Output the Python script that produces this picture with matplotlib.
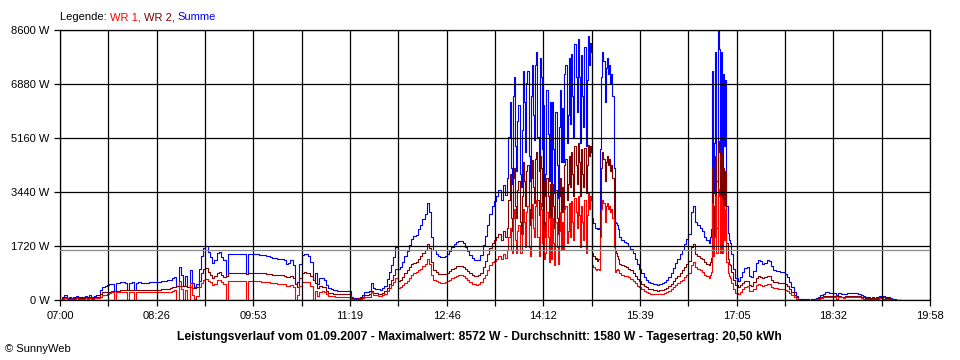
import numpy as np
import matplotlib
matplotlib.use("Agg")
import matplotlib.pyplot as plt

plt.rcParams['font.family'] = ['Liberation Sans', 'DejaVu Sans']

# ---- sample times (minutes after 07:00): 2-min samples, 1-min in the gusty spans ----
minutes = np.concatenate([
    np.arange(0, 400, 2),     # 07:00 - 13:38
    np.arange(400, 500, 1),   # 13:40 - 15:19
    np.arange(500, 580, 2),   # 15:20 - 16:38
    np.arange(580, 600, 1),   # 16:40 - 16:59
    np.arange(600, 753, 2),   # 17:00 - 19:32
])

# WR 2 (dark red), W
wr2 = [
    # 07:00 - 13:38 (2 min)
    0, 60, 90, 40, 70, 30, 60, 80, 50, 70,
    60, 80, 50, 90, 70, 80, 100, 110, 200, 260,
    265, 265, 270, 275, 280, 290, 300, 310, 310, 310,
    310, 310, 315, 310, 310, 315, 315, 310, 310, 315,
    320, 320, 325, 330, 330, 340, 340, 350, 360, 380,
    400, 420, 440, 450, 450, 450, 440, 410, 400, 390,
    390, 400, 600, 850, 1000, 1030, 900, 800, 700, 750,
    870, 880, 800, 740, 760, 850, 860, 860, 860, 860,
    860, 860, 860, 830, 860, 860, 860, 860, 860, 850,
    850, 845, 840, 830, 820, 810, 810, 800, 800, 800,
    780, 720, 740, 780, 700, 500, 420, 700, 870, 880,
    875, 850, 760, 650, 550, 380, 450, 430, 400, 300,
    230, 210, 200, 195, 190, 190, 195, 190, 185, 180,
    60, 40, 40, 50, 60, 110, 150, 150, 180, 300,
    220, 210, 200, 200, 230, 280, 380, 520, 650, 800,
    980, 600, 640, 740, 850, 950, 1050, 1150, 1190, 1200,
    1300, 1400, 1500, 1600, 1780, 1650, 1200, 950, 880, 840,
    820, 820, 830, 860, 920, 980, 1030, 1070, 1090, 1090,
    1060, 1000, 930, 860, 810, 780, 770, 790, 860, 1050,
    1250, 1450, 1650, 1800, 1900, 2000, 2100, 1900, 2200, 2000,
    # 13:40 - 15:19 (1 min)
    2300, 3200, 4000, 2600, 2200, 3900, 4200, 3000, 2600, 3500,
    3800, 2500, 2100, 3300, 4400, 3800, 3000, 4100, 4300, 2900,
    2400, 3900, 4450, 3600, 3100, 4500, 4700, 3200, 2700, 4600,
    4200, 3000, 3800, 2000, 2500, 3900, 3300, 2600, 3700, 2200,
    3700, 3000, 2300, 3500, 2600, 2100, 3300, 3900, 2800, 3600,
    2800, 4300, 4500, 3200, 3700, 4600, 3600, 4700, 4000, 3300,
    4900, 4300, 3700, 5000, 4400, 3300, 4800, 4000, 3600, 4850,
    3400, 4300, 4950, 4600, 4900, 4700, 1500, 1400, 1300, 1350,
    1250, 1300, 1300, 2800, 4200, 4700, 4500, 3800, 4400, 4600,
    4300, 4500, 4100, 4300, 3900, 2500, 1600, 1500, 1400, 1300,
    # 15:20 - 16:38 (2 min)
    1150, 1100, 1080, 1050, 1000, 950, 870, 780, 680, 600,
    520, 450, 400, 360, 340, 320, 310, 300, 310, 330,
    350, 390, 440, 520, 600, 690, 780, 850, 950, 1050,
    1150, 1250, 1700, 1780, 1450, 1400, 1350, 1300, 1200, 1150,
    # 16:40 - 16:59 (1 min)
    1100, 1200, 1350, 4200, 2000, 3000, 4600, 2300, 5052, 4700,
    2200, 4650, 2400, 4200, 3000, 4100, 1800, 1300, 1150, 1100,
    # 17:00 - 19:32 (2 min)
    900, 650, 480, 420, 470, 540, 600, 610, 470, 460,
    560, 700, 760, 740, 700, 720, 770, 750, 650, 580,
    560, 550, 550, 540, 500, 440, 360, 260, 170, 80,
    30, 20, 20, 15, 15, 10, 20, 30, 40, 60,
    100, 120, 140, 140, 130, 130, 130, 130, 120, 110,
    110, 120, 130, 130, 130, 130, 130, 120, 100, 80,
    50, 60, 40, 50, 40, 60, 80, 90, 80, 60,
    50, 30, 20, 15, 10, 5, 0,
]

# WR 1 (red), W
wr1 = [
    # 07:00 - 13:38 (2 min)
    0, 40, 60, 20, 40, 20, 40, 50, 30, 40,
    40, 50, 30, 60, 40, 50, 60, 60, 110, 170,
    170, 200, 230, 240, 0, 240, 250, 260, 250, 240,
    0, 240, 245, 0, 240, 245, 240, 240, 245, 240,
    245, 250, 250, 250, 255, 260, 260, 260, 265, 270,
    300, 320, 0, 600, 340, 0, 330, 0, 550, 150,
    40, 120, 400, 550, 650, 680, 620, 580, 480, 520,
    640, 650, 580, 520, 0, 600, 600, 600, 590, 590,
    590, 590, 590, 0, 600, 600, 600, 600, 595, 590,
    585, 580, 575, 560, 550, 540, 530, 520, 515, 510,
    500, 440, 450, 480, 430, 0, 150, 450, 570, 580,
    580, 560, 450, 0, 300, 120, 250, 280, 250, 180,
    140, 130, 120, 110, 100, 100, 105, 100, 100, 95,
    30, 20, 10, 20, 20, 60, 90, 100, 110, 240,
    160, 150, 140, 130, 160, 180, 300, 380, 470, 560,
    700, 380, 400, 470, 550, 620, 700, 800, 860, 880,
    950, 1000, 1080, 1140, 1300, 1150, 800, 650, 600, 570,
    550, 550, 560, 600, 650, 700, 740, 770, 790, 790,
    760, 700, 640, 570, 520, 500, 490, 500, 560, 700,
    800, 950, 1100, 1200, 1250, 1300, 1400, 1300, 1450, 1350,
    # 13:40 - 15:19 (1 min)
    1600, 2000, 2300, 1600, 1500, 2600, 2900, 1900, 1500, 2200,
    2400, 1500, 1500, 2100, 2900, 2500, 1700, 2800, 3000, 1700,
    1400, 2600, 3050, 2300, 2000, 3000, 3200, 2000, 1400, 3100,
    2900, 1800, 2400, 1300, 1500, 2800, 2000, 1200, 2600, 1300,
    2600, 1800, 1100, 2500, 1700, 1150, 2200, 2800, 1600, 2500,
    1600, 2900, 3000, 1800, 2200, 3100, 2000, 3150, 2500, 1900,
    3250, 2800, 2300, 3300, 2700, 1700, 3000, 2500, 1900, 3200,
    1500, 2700, 3450, 2900, 3300, 3200, 1100, 1050, 1000, 950,
    1000, 1000, 950, 2000, 2900, 3200, 3100, 2500, 3000, 3100,
    2900, 3000, 2800, 2900, 2600, 1700, 900, 950, 1000, 950,
    # 15:20 - 16:38 (2 min)
    850, 800, 780, 760, 720, 680, 620, 540, 460, 400,
    340, 290, 250, 220, 200, 190, 185, 180, 190, 200,
    220, 250, 290, 350, 420, 480, 540, 600, 650, 720,
    800, 850, 1100, 1200, 1050, 1000, 950, 900, 800, 750,
    # 16:40 - 16:59 (1 min)
    700, 800, 900, 3100, 1400, 2000, 3300, 1500, 3520, 3300,
    1500, 3250, 1500, 3000, 1900, 2900, 1200, 850, 750, 700,
    # 17:00 - 19:32 (2 min)
    550, 350, 220, 200, 270, 340, 420, 440, 300, 280,
    360, 470, 500, 490, 460, 470, 510, 500, 420, 380,
    370, 360, 350, 340, 320, 280, 220, 160, 100, 40,
    10, 10, 5, 5, 5, 5, 10, 10, 20, 30,
    60, 80, 100, 100, 100, 90, 90, 40, 90, 80,
    70, 80, 90, 95, 100, 100, 95, 80, 60, 40,
    30, 40, 20, 30, 20, 40, 50, 50, 40, 30,
    30, 20, 10, 5, 5, 0, 0,
]

summe = [a + b for a, b in zip(wr1, wr2)]

y_ticks = [0, 1720, 3440, 5160, 6880, 8600]
y_tick_labels = ["0 W", "1720 W", "3440 W", "5160 W", "6880 W", "8600 W"]
x_tick_labels = ["07:00", "08:26", "09:53", "11:19", "12:46",
                 "14:12", "15:39", "17:05", "18:32", "19:58"]
x_span_min = 778          # 07:00 .. 19:58
n_grid_intervals = 18
average_w = 1580

title_text = ("Leistungsverlauf vom 01.09.2007 - Maximalwert: 8572 W - "
              "Durchschnitt: 1580 W - Tagesertrag: 20,50 kWh")

# ---- figure ----
W, H = 960, 360
fig = plt.figure(figsize=(W / 100, H / 100), dpi=100)
ax = fig.add_axes([60 / W, 1 - 300 / H, 870 / W, 270 / H])

LW = 0.8
ax.plot(minutes, summe, color="#0000FF", lw=LW, drawstyle="steps-post",
        zorder=1.1)
ax.plot(minutes, wr2, color="#800000", lw=LW, drawstyle="steps-post",
        zorder=1.2)
ax.plot(minutes, wr1, color="#FF0000", lw=LW, drawstyle="steps-post",
        zorder=1.3)

ax.set_xlim(0, x_span_min)
ax.set_ylim(0, 8600)

grid_pos = np.linspace(0, x_span_min, n_grid_intervals + 1)
ax.set_xticks(grid_pos[::2])
ax.set_xticklabels(x_tick_labels)
ax.set_xticks(grid_pos[1::2], minor=True)
ax.set_yticks(y_ticks)
ax.set_yticklabels(y_tick_labels)

ax.set_axisbelow(False)
ax.grid(True, which="both", color="black", lw=0.9, zorder=2.5)
ax.axhline(average_w, color="#8c8c8c", lw=0.9, zorder=2.6)

for s in ax.spines.values():
    s.set_color("black")
    s.set_linewidth(0.9)

ax.tick_params(axis="both", which="both", direction="out", length=4.3,
               width=0.9, color="black", labelsize=8)
ax.tick_params(axis="x", which="both", pad=3.5)
ax.tick_params(axis="y", which="both", pad=3.2)

# bottom summary text
fig.text(479 / W, 1 - 337 / H, title_text, ha="center", va="center",
         fontsize=8.7, fontweight="bold", color="black")
fig.text(5 / W, 1 - 349 / H, "© SunnyWeb", ha="left", va="center",
         fontsize=8, color="black")

# legend pieces
legend_parts = [("Legende: ", "black"), ("WR 1, ", "#FF0000"),
                ("WR 2, ", "#800000"), ("Summe", "#0000FF")]
renderer = fig.canvas.get_renderer()
x_px = 60
for txt, col in legend_parts:
    t = fig.text(x_px / W, 1 - 17 / H, txt, ha="left", va="center",
                 fontsize=8, color=col)
    bb = t.get_window_extent(renderer)
    x_px = bb.x1

fig.savefig("out.png", dpi=100)
